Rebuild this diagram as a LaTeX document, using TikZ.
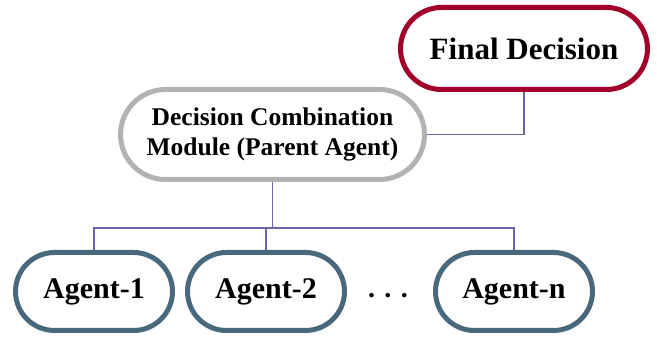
\documentclass[tikz,border=0pt]{standalone}
\usepackage{fontspec}
\setmainfont{Liberation Serif}
\usetikzlibrary{backgrounds}
\definecolor{finalred}{RGB}{162,0,40}
\definecolor{combgrey}{RGB}{178,178,178}
\definecolor{agentslate}{RGB}{74,104,124}
\definecolor{linkpurple}{RGB}{108,100,165}
\begin{document}
\begin{tikzpicture}[x=1pt,y=-1pt,
  pill/.style={draw, line width=5pt, fill=white, align=center, inner sep=0pt,
    font=\bfseries},
  finalbox/.style={pill, draw=finalred, minimum width=247pt, minimum height=82pt,
    rounded corners=41pt, font=\fontsize{31}{36}\selectfont\bfseries},
  combbox/.style={pill, draw=combgrey, minimum width=304pt, minimum height=90pt,
    rounded corners=45pt, font=\fontsize{25.5}{30}\selectfont\bfseries},
  agentbox/.style={pill, draw=agentslate, minimum width=157pt, minimum height=78pt,
    rounded corners=39pt, font=\fontsize{30}{34}\selectfont\bfseries},
  link/.style={draw=linkpurple, line width=1.8pt}]
\useasboundingbox (0,0) rectangle (657,339);

% boxes
\node[finalbox] (fd) at (524,48.5) {Final Decision};
\node[combbox] (dcm) at (272.5,134.5) {Decision Combination\\Module (Parent Agent)};
\node[agentbox] (a1) at (94,291.5) {Agent-1};
\node[agentbox] (a2) at (266,291.5) {Agent-2};
\node[agentbox] (an) at (514,291.5) {Agent-n};
\node[font=\fontsize{28}{30}\selectfont\bfseries] (dots) at (388,296) {.\,\,.\,\,.};

% connectors, kept behind the boxes
\coordinate (bus) at (0,228);
\begin{pgfonlayer}{background}
  \draw[link] (fd.south) |- (dcm.east);
  \draw[link] (dcm.south) -- (dcm.south |- bus);
  \draw[link] (a1.north) -- (a1.north |- bus) -| (an.north);
  \draw[link] (a2.north) -- (a2.north |- bus);
\end{pgfonlayer}
\end{tikzpicture}
\end{document}
